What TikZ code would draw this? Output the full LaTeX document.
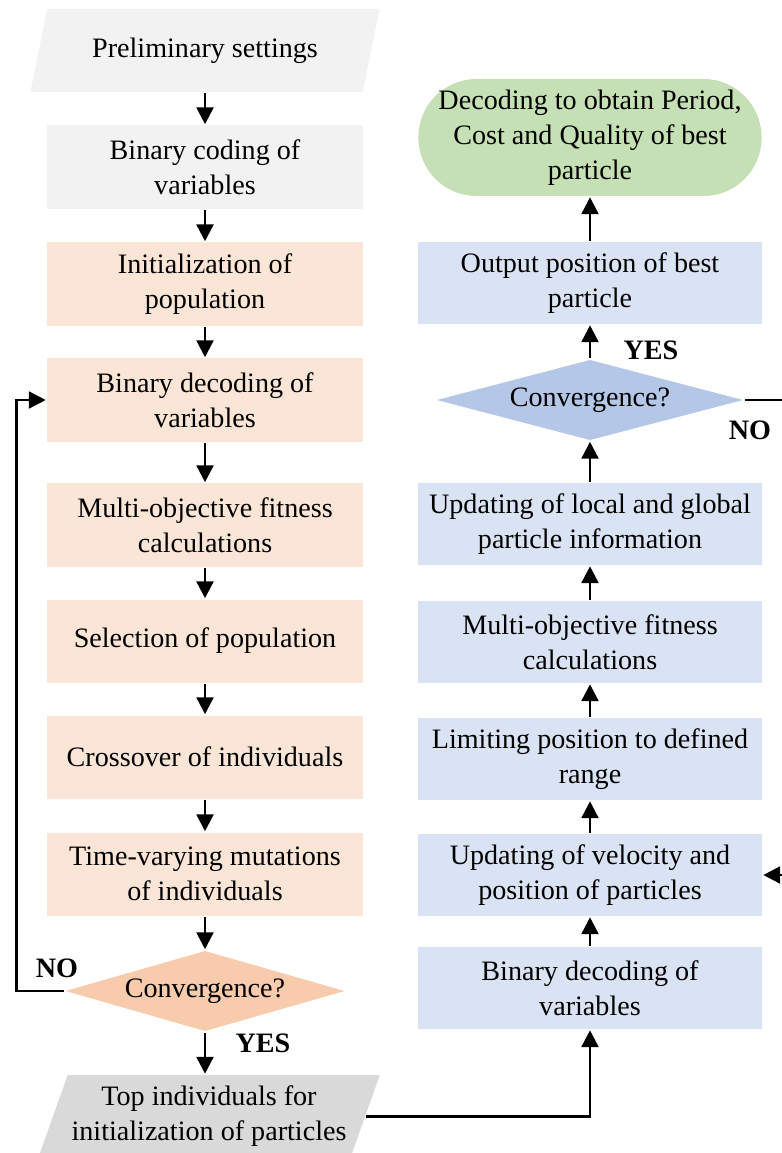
\documentclass[tikz,border=0pt]{standalone}
\usepackage{fontspec}
\setmainfont{Liberation Serif}
\usetikzlibrary{arrows.meta,shapes.geometric}
\definecolor{lightgray}{HTML}{F2F2F2}
\definecolor{midgray}{HTML}{D9D9D9}
\definecolor{orgbox}{HTML}{FBE5D6}
\definecolor{orgdia}{HTML}{F8CBAD}
\definecolor{bluebox}{HTML}{DAE3F3}
\definecolor{bluedia}{HTML}{B4C7E7}
\definecolor{greenend}{HTML}{C5E0B4}
\begin{document}
\begin{tikzpicture}[x=0.025cm, y=-0.025cm, line width=1.8pt,
    >={Triangle[length=0.42cm,width=0.42cm]},
    every node/.style={font=\fontsize{20}{25}\selectfont, align=center, inner sep=0pt},
    gbox/.style={fill=orgbox, minimum width=7.9cm, minimum height=2.075cm},
    pbox/.style={fill=bluebox, minimum width=8.6cm, minimum height=2.05cm},
    para/.style={trapezium, trapezium left angle=64.8, trapezium right angle=115.2,
        trapezium stretches=true, minimum height=2.075cm},
    decide/.style={diamond, aspect=3.8, minimum height=2.025cm},
    lab/.style={font=\fontsize{20}{25}\selectfont\bfseries}]
    \useasboundingbox (0,0) rectangle (782,1153);
    \clip (0,0) rectangle (782,1153);

    % genetic algorithm (left)
    \node[para, fill=lightgray, minimum width=8.75cm] (set) at (205,50.5) {Preliminary settings};
    \node[gbox, fill=lightgray] (code) at (205,167) {Binary coding of\\variables};
    \node[gbox] (init) at (205,284) {Initialization of\\population};
    \node[gbox] (gdec) at (205,400) {Binary decoding of\\variables};
    \node[gbox] (fit1) at (205,525) {Multi-objective fitness\\calculations};
    \node[gbox] (sel) at (205,641) {Selection of population};
    \node[gbox] (cross) at (205,757) {Crossover of individuals};
    \node[gbox] (mut) at (205,874) {Time-varying mutations\\of individuals};
    \node[decide, fill=orgdia, minimum width=7cm] (conv1) at (205,991) {Convergence?};
    \node[para, fill=midgray, minimum width=8.55cm] (top) at (209,1116.5) {Top individuals for\\initialization of particles};

    % particle swarm (right)
    \node[pbox] (pdec) at (590,988) {Binary decoding of\\variables};
    \node[pbox] (vel) at (590,875) {Updating of velocity and\\position of particles};
    \node[pbox] (lim) at (590,759) {Limiting position to defined\\range};
    \node[pbox] (fit2) at (590,642) {Multi-objective fitness\\calculations};
    \node[pbox] (upd) at (590,524) {Updating of local and global\\particle information};
    \node[decide, fill=bluedia, minimum width=7.675cm] (conv2) at (590,400) {Convergence?};
    \node[pbox] (out) at (590,283) {Output position of best\\particle};
    \node[fill=greenend, minimum width=8.575cm, minimum height=2.925cm, rounded corners=1.45cm] (res) at (590,137.5) {Decoding to obtain Period,\\Cost and Quality of best\\particle};

    \foreach \a/\b in {set/code, code/init, init/gdec, gdec/fit1, fit1/sel, sel/cross, cross/mut, mut/conv1, conv1/top}
    {
        \draw[->] (\a.south) -- (\a.south |- \b.north);
    }
    \foreach \a/\b in {pdec/vel, vel/lim, lim/fit2, fit2/upd, upd/conv2, conv2/out, out/res}
    {
        \draw[->] (\a) -- (\b);
    }

    \draw[->] (conv1.west) -- ++(-47,0) |- (gdec.west);
    \draw[->] (conv2.east) -- ++(60,0) |- (vel.east);
    \draw[->] (top.east) -| (pdec.south);

    \node[lab] (no1) at (57,968) {NO};
    \node[lab] (yes1) at (263,1043) {YES};
    \node[lab] (yes2) at (651,350) {YES};
    \node[lab] (no2) at (750,430) {NO};
\end{tikzpicture}
\end{document}
